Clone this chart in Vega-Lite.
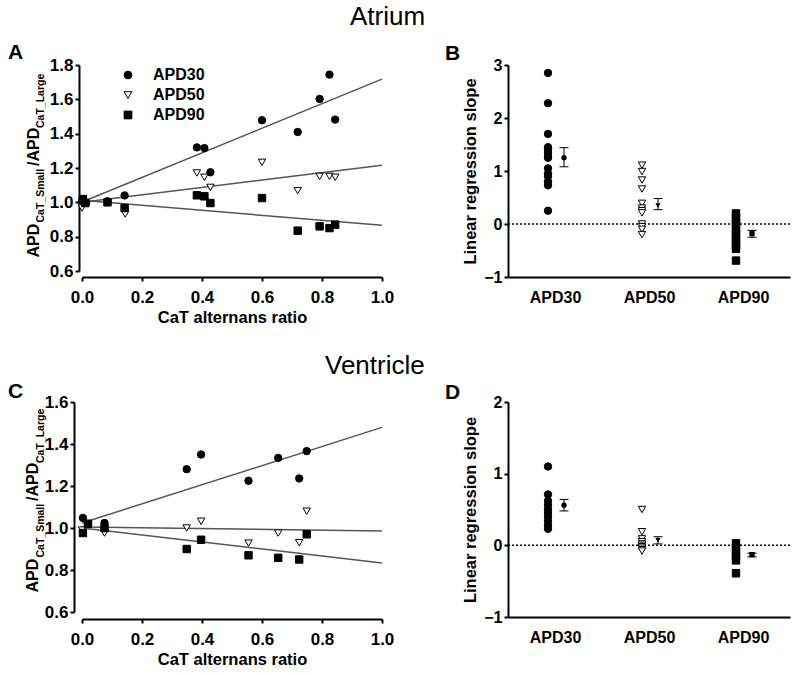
{
  "$schema": "https://vega.github.io/schema/vega-lite/v6.json",
  "padding": {"left": 8, "top": 4, "right": 0, "bottom": 0},
  "datasets": {
    "atriumScatter": [
      {"series": "APD30", "ratio": 0.0, "apd": 1.006}, {"series": "APD30", "ratio": 0.014, "apd": 0.996},
      {"series": "APD30", "ratio": 0.085, "apd": 1.006}, {"series": "APD30", "ratio": 0.142, "apd": 1.04},
      {"series": "APD30", "ratio": 0.383, "apd": 1.32}, {"series": "APD30", "ratio": 0.408, "apd": 1.316},
      {"series": "APD30", "ratio": 0.428, "apd": 1.175}, {"series": "APD30", "ratio": 0.6, "apd": 1.478},
      {"series": "APD30", "ratio": 0.719, "apd": 1.41}, {"series": "APD30", "ratio": 0.792, "apd": 1.602},
      {"series": "APD30", "ratio": 0.825, "apd": 1.744}, {"series": "APD30", "ratio": 0.844, "apd": 1.482},
      {"series": "APD50", "ratio": 0.0, "apd": 0.967}, {"series": "APD50", "ratio": 0.144, "apd": 0.932},
      {"series": "APD50", "ratio": 0.383, "apd": 1.171}, {"series": "APD50", "ratio": 0.408, "apd": 1.146},
      {"series": "APD50", "ratio": 0.428, "apd": 1.087}, {"series": "APD50", "ratio": 0.6, "apd": 1.233},
      {"series": "APD50", "ratio": 0.719, "apd": 1.068}, {"series": "APD50", "ratio": 0.792, "apd": 1.151},
      {"series": "APD50", "ratio": 0.825, "apd": 1.151}, {"series": "APD50", "ratio": 0.844, "apd": 1.146},
      {"series": "APD90", "ratio": 0.003, "apd": 1.019}, {"series": "APD90", "ratio": 0.011, "apd": 0.996},
      {"series": "APD90", "ratio": 0.085, "apd": 1.0}, {"series": "APD90", "ratio": 0.142, "apd": 0.967},
      {"series": "APD90", "ratio": 0.383, "apd": 1.041}, {"series": "APD90", "ratio": 0.408, "apd": 1.035},
      {"series": "APD90", "ratio": 0.428, "apd": 0.996}, {"series": "APD90", "ratio": 0.6, "apd": 1.025},
      {"series": "APD90", "ratio": 0.719, "apd": 0.835}, {"series": "APD90", "ratio": 0.792, "apd": 0.86},
      {"series": "APD90", "ratio": 0.825, "apd": 0.85}, {"series": "APD90", "ratio": 0.844, "apd": 0.87}
    ],
    "atriumFit": [
      {"series": "APD30", "ratio": 0, "apd": 1.002}, {"series": "APD30", "ratio": 1, "apd": 1.718},
      {"series": "APD50", "ratio": 0, "apd": 1.0}, {"series": "APD50", "ratio": 1, "apd": 1.216},
      {"series": "APD90", "ratio": 0, "apd": 1.012}, {"series": "APD90", "ratio": 1, "apd": 0.866}
    ],
    "ventricleScatter": [
      {"series": "APD30", "ratio": 0.003, "apd": 1.048}, {"series": "APD30", "ratio": 0.02, "apd": 1.02},
      {"series": "APD30", "ratio": 0.075, "apd": 1.024}, {"series": "APD30", "ratio": 0.349, "apd": 1.28},
      {"series": "APD30", "ratio": 0.397, "apd": 1.35}, {"series": "APD30", "ratio": 0.555, "apd": 1.225},
      {"series": "APD30", "ratio": 0.654, "apd": 1.334}, {"series": "APD30", "ratio": 0.724, "apd": 1.236},
      {"series": "APD30", "ratio": 0.749, "apd": 1.366},
      {"series": "APD50", "ratio": 0.0, "apd": 0.99}, {"series": "APD50", "ratio": 0.075, "apd": 0.976},
      {"series": "APD50", "ratio": 0.349, "apd": 1.0}, {"series": "APD50", "ratio": 0.397, "apd": 1.032},
      {"series": "APD50", "ratio": 0.555, "apd": 0.928}, {"series": "APD50", "ratio": 0.654, "apd": 0.976},
      {"series": "APD50", "ratio": 0.724, "apd": 0.93}, {"series": "APD50", "ratio": 0.749, "apd": 1.08},
      {"series": "APD90", "ratio": 0.003, "apd": 0.976}, {"series": "APD90", "ratio": 0.02, "apd": 1.02},
      {"series": "APD90", "ratio": 0.075, "apd": 1.0}, {"series": "APD90", "ratio": 0.349, "apd": 0.9},
      {"series": "APD90", "ratio": 0.397, "apd": 0.944}, {"series": "APD90", "ratio": 0.555, "apd": 0.87},
      {"series": "APD90", "ratio": 0.654, "apd": 0.858}, {"series": "APD90", "ratio": 0.724, "apd": 0.85},
      {"series": "APD90", "ratio": 0.749, "apd": 0.97}
    ],
    "ventricleFit": [
      {"series": "APD30", "ratio": 0, "apd": 1.024}, {"series": "APD30", "ratio": 1, "apd": 1.479},
      {"series": "APD50", "ratio": 0, "apd": 1.005}, {"series": "APD50", "ratio": 1, "apd": 0.986},
      {"series": "APD90", "ratio": 0, "apd": 1.0}, {"series": "APD90", "ratio": 1, "apd": 0.833}
    ],
    "atriumSlopes": [
      {"series": "APD30", "slope": 2.85}, {"series": "APD30", "slope": 2.28}, {"series": "APD30", "slope": 1.7},
      {"series": "APD30", "slope": 1.45}, {"series": "APD30", "slope": 1.4}, {"series": "APD30", "slope": 1.35},
      {"series": "APD30", "slope": 1.3}, {"series": "APD30", "slope": 1.25}, {"series": "APD30", "slope": 1.05},
      {"series": "APD30", "slope": 0.95}, {"series": "APD30", "slope": 0.9}, {"series": "APD30", "slope": 0.8},
      {"series": "APD30", "slope": 0.73}, {"series": "APD30", "slope": 0.25},
      {"series": "APD50", "slope": 1.11}, {"series": "APD50", "slope": 0.99}, {"series": "APD50", "slope": 0.83},
      {"series": "APD50", "slope": 0.66}, {"series": "APD50", "slope": 0.39}, {"series": "APD50", "slope": 0.3},
      {"series": "APD50", "slope": 0.25}, {"series": "APD50", "slope": 0.21}, {"series": "APD50", "slope": 0.0},
      {"series": "APD50", "slope": -0.05}, {"series": "APD50", "slope": -0.1}, {"series": "APD50", "slope": -0.2},
      {"series": "APD90", "slope": 0.2}, {"series": "APD90", "slope": 0.12}, {"series": "APD90", "slope": 0.05},
      {"series": "APD90", "slope": -0.02}, {"series": "APD90", "slope": -0.1}, {"series": "APD90", "slope": -0.18},
      {"series": "APD90", "slope": -0.25}, {"series": "APD90", "slope": -0.33}, {"series": "APD90", "slope": -0.4},
      {"series": "APD90", "slope": -0.47}, {"series": "APD90", "slope": -0.69}
    ],
    "atriumMeans": [
      {"series": "APD30", "mean": 1.25, "lo": 1.08, "hi": 1.44},
      {"series": "APD50", "mean": 0.35, "lo": 0.27, "hi": 0.48},
      {"series": "APD90", "mean": -0.18, "lo": -0.25, "hi": -0.12}
    ],
    "ventricleSlopes": [
      {"series": "APD30", "slope": 1.1}, {"series": "APD30", "slope": 0.71}, {"series": "APD30", "slope": 0.62},
      {"series": "APD30", "slope": 0.56}, {"series": "APD30", "slope": 0.5}, {"series": "APD30", "slope": 0.45},
      {"series": "APD30", "slope": 0.4}, {"series": "APD30", "slope": 0.34}, {"series": "APD30", "slope": 0.28},
      {"series": "APD30", "slope": 0.23},
      {"series": "APD50", "slope": 0.5}, {"series": "APD50", "slope": 0.19}, {"series": "APD50", "slope": 0.09},
      {"series": "APD50", "slope": 0.05}, {"series": "APD50", "slope": 0.02}, {"series": "APD50", "slope": 0.0},
      {"series": "APD50", "slope": -0.02}, {"series": "APD50", "slope": -0.04}, {"series": "APD50", "slope": -0.06},
      {"series": "APD50", "slope": -0.08},
      {"series": "APD90", "slope": 0.03}, {"series": "APD90", "slope": -0.03}, {"series": "APD90", "slope": -0.09},
      {"series": "APD90", "slope": -0.15}, {"series": "APD90", "slope": -0.21}, {"series": "APD90", "slope": -0.39}
    ],
    "ventricleMeans": [
      {"series": "APD30", "mean": 0.56, "lo": 0.48, "hi": 0.64},
      {"series": "APD50", "mean": 0.07, "lo": 0.02, "hi": 0.12},
      {"series": "APD90", "mean": -0.13, "lo": -0.16, "hi": -0.11}
    ]
  },
  "vconcat": [
    {
      "title": {"text": "Atrium", "anchor": "start", "frame": "group", "fontSize": 26, "fontWeight": "normal", "dx": 268, "offset": 12},
      "spacing": 126,
      "bounds": "flush",
      "resolve": {"scale": {"shape": "independent", "fill": "independent"}},
      "hconcat": [
        {
          "width": 300, "height": 206,
          "title": {"text": "A", "anchor": "start", "frame": "group", "fontSize": 21, "fontWeight": "bold", "dx": -74, "dy": 9, "offset": 2},
          "resolve": {"axis": {"y": "independent"}},
          "layer": [
            {
              "data": {"name": "atriumFit"},
              "mark": {"type": "line", "color": "#555555", "strokeWidth": 1.5},
              "encoding": {
                "x": {"field": "ratio", "type": "quantitative", "title": "CaT alternans ratio", "scale": {"domain": [0, 1]},
                      "axis": {"values": [0, 0.2, 0.4, 0.6, 0.8, 1], "format": ".1f", "offset": 6, "labelPadding": 8, "titlePadding": 4}},
                "y": {"field": "apd", "type": "quantitative", "scale": {"domain": [0.6, 1.8]},
                      "axis": {"values": [0.6, 0.8, 1, 1.2, 1.4, 1.6, 1.8], "format": ".1f", "offset": 3, "labelPadding": 2,
                               "title": "APD\u00a0\u00a0\u00a0\u00a0\u00a0\u00a0\u00a0\u00a0\u00a0\u00a0\u00a0\u00a0\u00a0/APD",
                               "titleX": -41, "titleY": 192, "titleAngle": -90, "titleAlign": "left", "titleBaseline": "alphabetic", "titleFontSize": 16}},
                "detail": {"field": "series"}
              }
            },
            {
              "data": {"name": "atriumScatter"},
              "mark": {"type": "point", "filled": true, "opacity": 1, "size": 55, "stroke": "black", "strokeWidth": 1},
              "encoding": {
                "x": {"field": "ratio", "type": "quantitative", "title": "CaT alternans ratio"},
                "y": {"field": "apd", "type": "quantitative",
                      "axis": {"orient": "right", "labels": false, "ticks": false, "domain": false,
                               "title": "CaT_Small\u00a0\u00a0\u00a0\u00a0\u00a0\u00a0\u00a0\u00a0\u00a0\u00a0\u00a0\u00a0\u00a0\u00a0CaT_Large",
                               "titleX": -339, "titleY": 157, "titleAngle": -90, "titleAlign": "left", "titleBaseline": "alphabetic", "titleFontSize": 10.5}},
                "shape": {"field": "series", "type": "nominal",
                          "scale": {"domain": ["APD30", "APD50", "APD90"], "range": ["circle", "triangle-down", "square"]},
                          "legend": {"orient": "none", "legendX": 38, "legendY": 2, "title": null, "labelFontSize": 16, "labelFontWeight": "bold", "labelColor": "black", "symbolSize": 60, "symbolOpacity": 1, "symbolStrokeColor": "black", "symbolStrokeWidth": 1, "labelOffset": 17, "rowPadding": 4, "padding": 0,
                                     "encode": {"symbols": {"update": {"stroke": {"value": "black"}, "strokeWidth": {"value": 1}}}}}},
                "fill": {"field": "series", "type": "nominal",
                         "scale": {"domain": ["APD30", "APD50", "APD90"], "range": ["black", "white", "black"]},
                         "legend": {"orient": "none", "legendX": 38, "legendY": 2, "title": null, "labelFontSize": 16, "labelFontWeight": "bold", "labelColor": "black", "symbolSize": 60, "symbolOpacity": 1, "symbolStrokeColor": "black", "symbolStrokeWidth": 1, "labelOffset": 17, "rowPadding": 4, "padding": 0,
                                    "encode": {"symbols": {"update": {"stroke": {"value": "black"}, "strokeWidth": {"value": 1}}}}}}
              }
            }
          ]
        },
        {
          "width": 282, "height": 212,
          "title": {"text": "B", "anchor": "start", "frame": "group", "fontSize": 21, "fontWeight": "bold", "dx": -63, "dy": 9, "offset": 2},
          "layer": [
            {
              "data": {"values": [{}]},
              "mark": {"type": "rule", "strokeDash": [2, 2], "color": "black", "strokeWidth": 1.5},
              "encoding": {"y": {"datum": 0, "type": "quantitative", "title": "Linear regression slope"}}
            },
            {
              "data": {"name": "atriumSlopes"},
              "mark": {"type": "point", "filled": true, "opacity": 1, "size": 55, "stroke": "black", "strokeWidth": 1, "xOffset": -7},
              "encoding": {
                "x": {"field": "series", "type": "nominal", "title": null,
                      "scale": {"type": "point", "domain": ["APD30", "APD50", "APD90"], "padding": 0.5},
                      "axis": {"labelAngle": 0, "ticks": false, "labelPadding": 12, "labelFontSize": 16}},
                "y": {"field": "slope", "type": "quantitative", "title": "Linear regression slope",
                      "scale": {"domain": [-1, 3]},
                      "axis": {"values": [-1, 0, 1, 2, 3], "format": "d", "labelPadding": 2, "labelFontSize": 16, "titlePadding": 5}},
                "shape": {"field": "series", "type": "nominal", "legend": null,
                          "scale": {"domain": ["APD30", "APD50", "APD90"], "range": ["circle", "triangle-down", "square"]}},
                "fill": {"field": "series", "type": "nominal", "legend": null,
                         "scale": {"domain": ["APD30", "APD50", "APD90"], "range": ["black", "white", "black"]}}
              }
            },
            {
              "data": {"name": "atriumMeans"},
              "mark": {"type": "rule", "color": "black", "strokeWidth": 1, "xOffset": 9},
              "encoding": {
                "x": {"field": "series", "type": "nominal", "title": null},
                "y": {"field": "lo", "type": "quantitative", "title": "Linear regression slope"},
                "y2": {"field": "hi"}
              }
            },
            {
              "data": {"name": "atriumMeans"},
              "mark": {"type": "tick", "orient": "horizontal", "size": 9, "thickness": 1, "opacity": 1, "color": "black", "xOffset": 9},
              "encoding": {
                "x": {"field": "series", "type": "nominal", "title": null},
                "y": {"field": "lo", "type": "quantitative", "title": "Linear regression slope"}
              }
            },
            {
              "data": {"name": "atriumMeans"},
              "mark": {"type": "tick", "orient": "horizontal", "size": 9, "thickness": 1, "opacity": 1, "color": "black", "xOffset": 9},
              "encoding": {
                "x": {"field": "series", "type": "nominal", "title": null},
                "y": {"field": "hi", "type": "quantitative", "title": "Linear regression slope"}
              }
            },
            {
              "data": {"name": "atriumMeans"},
              "mark": {"type": "point", "filled": true, "opacity": 1, "fill": "black", "size": 28, "xOffset": 9},
              "encoding": {
                "x": {"field": "series", "type": "nominal", "title": null},
                "y": {"field": "mean", "type": "quantitative", "title": "Linear regression slope"},
                "shape": {"field": "series", "type": "nominal", "legend": null}
              }
            }
          ]
        }
      ]
    },
    {
      "title": {"text": "Ventricle", "anchor": "start", "frame": "group", "fontSize": 26, "fontWeight": "normal", "dx": 243, "dy": 14, "offset": 16},
      "spacing": 126,
      "bounds": "flush",
      "resolve": {"scale": {"shape": "independent", "fill": "independent"}},
      "hconcat": [
        {
          "width": 300, "height": 210,
          "title": {"text": "C", "anchor": "start", "frame": "group", "fontSize": 21, "fontWeight": "bold", "dx": -74, "dy": 11, "offset": 2},
          "resolve": {"axis": {"y": "independent"}},
          "layer": [
            {
              "data": {"name": "ventricleFit"},
              "mark": {"type": "line", "color": "#555555", "strokeWidth": 1.5},
              "encoding": {
                "x": {"field": "ratio", "type": "quantitative", "title": "CaT alternans ratio", "scale": {"domain": [0, 1]},
                      "axis": {"values": [0, 0.2, 0.4, 0.6, 0.8, 1], "format": ".1f", "offset": 7, "labelPadding": 8, "titlePadding": 4}},
                "y": {"field": "apd", "type": "quantitative", "scale": {"domain": [0.6, 1.6]},
                      "axis": {"values": [0.6, 0.8, 1, 1.2, 1.4, 1.6], "format": ".1f", "offset": 8, "labelPadding": 2,
                               "title": "APD\u00a0\u00a0\u00a0\u00a0\u00a0\u00a0\u00a0\u00a0\u00a0\u00a0\u00a0\u00a0\u00a0/APD",
                               "titleX": -37, "titleY": 190, "titleAngle": -90, "titleAlign": "left", "titleBaseline": "alphabetic", "titleFontSize": 16}},
                "detail": {"field": "series"}
              }
            },
            {
              "data": {"name": "ventricleScatter"},
              "mark": {"type": "point", "filled": true, "opacity": 1, "size": 55, "stroke": "black", "strokeWidth": 1},
              "encoding": {
                "x": {"field": "ratio", "type": "quantitative", "title": "CaT alternans ratio"},
                "y": {"field": "apd", "type": "quantitative",
                      "axis": {"orient": "right", "labels": false, "ticks": false, "domain": false,
                               "title": "CaT_Small\u00a0\u00a0\u00a0\u00a0\u00a0\u00a0\u00a0\u00a0\u00a0\u00a0\u00a0\u00a0\u00a0\u00a0CaT_Large",
                               "titleX": -339, "titleY": 155, "titleAngle": -90, "titleAlign": "left", "titleBaseline": "alphabetic", "titleFontSize": 10.5}},
                "shape": {"field": "series", "type": "nominal", "legend": null,
                          "scale": {"domain": ["APD30", "APD50", "APD90"], "range": ["circle", "triangle-down", "square"]}},
                "fill": {"field": "series", "type": "nominal", "legend": null,
                         "scale": {"domain": ["APD30", "APD50", "APD90"], "range": ["black", "white", "black"]}}
              }
            }
          ]
        },
        {
          "width": 282, "height": 215,
          "title": {"text": "D", "anchor": "start", "frame": "group", "fontSize": 21, "fontWeight": "bold", "dx": -63, "dy": 11, "offset": 2},
          "layer": [
            {
              "data": {"values": [{}]},
              "mark": {"type": "rule", "strokeDash": [2, 2], "color": "black", "strokeWidth": 1.5},
              "encoding": {"y": {"datum": 0, "type": "quantitative", "title": "Linear regression slope"}}
            },
            {
              "data": {"name": "ventricleSlopes"},
              "mark": {"type": "point", "filled": true, "opacity": 1, "size": 55, "stroke": "black", "strokeWidth": 1, "xOffset": -7},
              "encoding": {
                "x": {"field": "series", "type": "nominal", "title": null,
                      "scale": {"type": "point", "domain": ["APD30", "APD50", "APD90"], "padding": 0.5},
                      "axis": {"labelAngle": 0, "ticks": false, "labelPadding": 12, "labelFontSize": 16}},
                "y": {"field": "slope", "type": "quantitative", "title": "Linear regression slope",
                      "scale": {"domain": [-1, 2]},
                      "axis": {"values": [-1, 0, 1, 2], "format": "d", "labelPadding": 2, "labelFontSize": 16, "titlePadding": 5}},
                "shape": {"field": "series", "type": "nominal", "legend": null,
                          "scale": {"domain": ["APD30", "APD50", "APD90"], "range": ["circle", "triangle-down", "square"]}},
                "fill": {"field": "series", "type": "nominal", "legend": null,
                         "scale": {"domain": ["APD30", "APD50", "APD90"], "range": ["black", "white", "black"]}}
              }
            },
            {
              "data": {"name": "ventricleMeans"},
              "mark": {"type": "rule", "color": "black", "strokeWidth": 1, "xOffset": 9},
              "encoding": {
                "x": {"field": "series", "type": "nominal", "title": null},
                "y": {"field": "lo", "type": "quantitative", "title": "Linear regression slope"},
                "y2": {"field": "hi"}
              }
            },
            {
              "data": {"name": "ventricleMeans"},
              "mark": {"type": "tick", "orient": "horizontal", "size": 9, "thickness": 1, "opacity": 1, "color": "black", "xOffset": 9},
              "encoding": {
                "x": {"field": "series", "type": "nominal", "title": null},
                "y": {"field": "lo", "type": "quantitative", "title": "Linear regression slope"}
              }
            },
            {
              "data": {"name": "ventricleMeans"},
              "mark": {"type": "tick", "orient": "horizontal", "size": 9, "thickness": 1, "opacity": 1, "color": "black", "xOffset": 9},
              "encoding": {
                "x": {"field": "series", "type": "nominal", "title": null},
                "y": {"field": "hi", "type": "quantitative", "title": "Linear regression slope"}
              }
            },
            {
              "data": {"name": "ventricleMeans"},
              "mark": {"type": "point", "filled": true, "opacity": 1, "fill": "black", "size": 28, "xOffset": 9},
              "encoding": {
                "x": {"field": "series", "type": "nominal", "title": null},
                "y": {"field": "mean", "type": "quantitative", "title": "Linear regression slope"},
                "shape": {"field": "series", "type": "nominal", "legend": null}
              }
            }
          ]
        }
      ]
    }
  ],
  "spacing": 27,
  "resolve": {"scale": {"shape": "independent", "fill": "independent"}},
  "config": {
    "font": "Liberation Sans",
    "view": {"stroke": null},
    "title": {"font": "Liberation Sans", "color": "black"},
    "legend": {"labelFont": "Liberation Sans"},
    "axis": {
      "labelFont": "Liberation Sans", "labelFontWeight": "bold", "labelFontSize": 17, "labelColor": "black",
      "titleFont": "Liberation Sans", "titleFontWeight": "bold", "titleFontSize": 16.5, "titleColor": "black",
      "domainColor": "black", "domainWidth": 2, "tickColor": "black", "tickWidth": 2, "tickSize": 4,
      "grid": false, "labelPadding": 3, "labelFlush": false
    }
  }
}
